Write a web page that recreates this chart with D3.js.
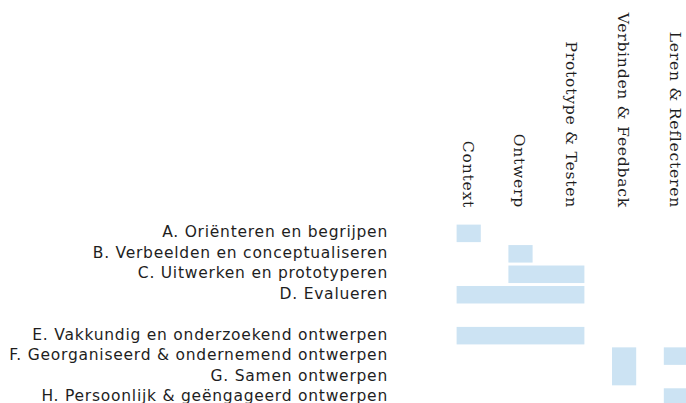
<!DOCTYPE html>
<html>
<head>
<meta charset="utf-8">
<script src="https://cdn.jsdelivr.net/npm/d3@7"></script>
<style>
  body { margin: 0; background: #fff; }
  svg { display: block; }
  .row-label { font-family: "DejaVu Sans", sans-serif; font-size: 15.5px; letter-spacing: 0.76px; fill: #1e1e1e; }
  .col-label { font-family: "DejaVu Serif", serif; font-size: 15.5px; letter-spacing: 0.8px; fill: #1e1e1e; }
</style>
</head>
<body>
<svg></svg>
<script>
// rows (empty string = blank spacer row)
const rows = [
  'A. Oriënteren en begrijpen',
  'B. Verbeelden en conceptualiseren',
  'C. Uitwerken en prototyperen',
  'D. Evalueren',
  '',
  'E. Vakkundig en onderzoekend ontwerpen',
  'F. Georganiseerd & ondernemend ontwerpen',
  'G. Samen ontwerpen',
  'H. Persoonlijk & geëngageerd ontwerpen'
];
const cols = ['Context', 'Ontwerp', 'Prototype & Testen', 'Verbinden & Feedback', 'Leren & Reflecteren'];

// filled blocks: first row .. last row, first column .. last column
const spanRowFrom = [rows[0], rows[1], rows[2], rows[3], rows[5], rows[6], rows[6], rows[8]];
const spanRowTo   = [rows[0], rows[1], rows[2], rows[3], rows[5], rows[7], rows[6], rows[8]];
const spanColFrom = [cols[0], cols[1], cols[1], cols[0], cols[0], cols[3], cols[4], cols[4]];
const spanColTo   = [cols[0], cols[1], cols[2], cols[2], cols[2], cols[3], cols[4], cols[4]];

const spans = spanRowFrom.map((r, i) => ({
  r0: r, r1: spanRowTo[i], c0: spanColFrom[i], c1: spanColTo[i]
}));

let width = 686, height = 403;

let svg = d3.select('svg')
  .attr('width', width)
  .attr('height', height);

let x = d3.scaleBand()
  .domain(cols)
  .range([456.6, 688])
  .paddingInner(0.533)
  .paddingOuter(0);

let y = d3.scaleBand()
  .domain(rows)
  .range([224.6, 405.8])
  .paddingInner(0.144)
  .paddingOuter(0);

svg.append('g')
  .selectAll('rect')
  .data(spans)
  .enter()
  .append('rect')
  .attr('x', d => x(d.c0))
  .attr('width', d => x(d.c1) + x.bandwidth() - x(d.c0))
  .attr('y', d => y(d.r0))
  .attr('height', d => y(d.r1) + y.bandwidth() - y(d.r0))
  .attr('fill', '#cce3f3');

svg.append('g')
  .selectAll('text')
  .data(rows.filter(r => r !== ''))
  .enter()
  .append('text')
  .classed('row-label', true)
  .attr('x', 388)
  .attr('y', d => y(d) + y.bandwidth() / 2 + 4)
  .attr('text-anchor', 'end')
  .text(d => d);

svg.append('g')
  .selectAll('text')
  .data(cols)
  .enter()
  .append('text')
  .classed('col-label', true)
  .attr('transform', d => `translate(${x(d) + x.bandwidth() / 2 - 6},208) rotate(90)`)
  .attr('text-anchor', 'end')
  .text(d => d);
</script>
</body>
</html>
